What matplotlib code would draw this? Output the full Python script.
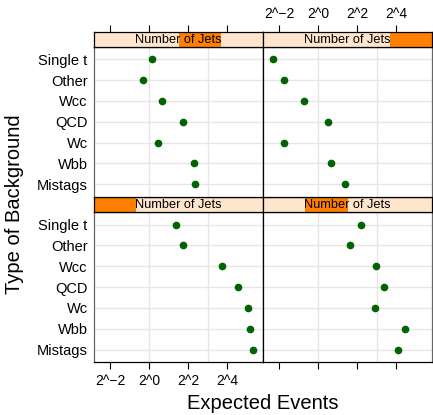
import numpy as np
import matplotlib.pyplot as plt
from matplotlib.patches import Rectangle
from matplotlib.ticker import FixedLocator, FuncFormatter, NullFormatter

plt.rcParams['font.family'] = ['Liberation Sans', 'DejaVu Sans']

# rows from bottom to top, as lattice draws them
backgrounds = ["Mistags", "Wbb", "Wc", "QCD", "Wcc", "Other", "Single t"]
jet_levels = [1, 2, 3, 4]

# expected events per background, one list per jet multiplicity
events_1jet = [40.2, 36.3, 33.6, 23.9, 13.5, 3.29, 2.59]
events_2jet = [16.9, 22.2, 7.67, 10.3, 7.89, 3.10, 4.63]
events_3jet = [5.17, 4.92, 1.39, 3.36, 1.59, 0.80, 1.10]
events_4jet = [2.62, 1.59, 0.30, 1.41, 0.61, 0.30, 0.20]
events = [events_1jet, events_2jet, events_3jet, events_4jet]

xticks = [2.0**-2, 2.0**0, 2.0**2, 2.0**4]
xgrid = [1, 8]
xlim = (2.0**-2.84, 2.0**5.85)

W, H = 433, 415
fig = plt.figure(figsize=(W / 100, H / 100), dpi=100)


def box(x0, y0, x1, y1):
    # pixel box (top-left origin) -> figure fraction rect
    return [x0 / W, 1 - y1 / H, (x1 - x0) / W, (y1 - y0) / H]


def fmt(v, pos):
    e = int(round(np.log2(v)))
    return "2^" + (("\u2212%d" % -e) if e < 0 else "%d" % e)


cols = [(94, 263), (263, 432)]
rows = [(212, 362, 196.7, 212), (46.7, 196.7, 32, 46.7)]  # panel top/bottom, strip top/bottom
ypos = np.arange(1, len(backgrounds) + 1)

for i, lev in enumerate(jet_levels):
    c, r = i % 2, i // 2
    x0, x1 = cols[c]
    py0, py1, sy0, sy1 = rows[r]

    ax = fig.add_axes(box(x0, py0, x1, py1))
    ax.set_xscale('log', base=2)
    ax.set_xlim(*xlim)
    ax.set_ylim(0.4, len(backgrounds) + 0.6)
    for g in xgrid:
        ax.axvline(g, color='#e6e6e6', lw=1, zorder=0)
    for y in ypos:
        ax.axhline(y, color='#e6e6e6', lw=1, zorder=0)
    ax.plot(events[i], ypos, 'o', color='#006400', ms=4.5, zorder=3)

    ax.xaxis.set_major_locator(FixedLocator(xticks))
    ax.xaxis.set_minor_locator(FixedLocator([]))
    if r == 0:
        ax.tick_params(axis='x', bottom=True, top=False, length=4.7, width=0.8,
                       labelsize=10, pad=4)
        if c == 0:
            ax.xaxis.set_major_formatter(FuncFormatter(fmt))
        else:
            ax.xaxis.set_major_formatter(NullFormatter())
    else:
        ax.tick_params(axis='x', bottom=False, labelbottom=False)

    ax.set_yticks(ypos)
    if c == 0:
        ax.set_yticklabels(backgrounds, fontsize=10.5)
        ax.tick_params(axis='y', length=0, pad=4.5)
        ax.spines['left'].set_color('#666666')
    else:
        ax.tick_params(axis='y', left=False, labelleft=False)
        ax.spines['right'].set_color('#666666')
    for s in ax.spines.values():
        s.set_linewidth(0.9)

    # strip with level indicator
    st = fig.add_axes(box(x0, sy0, x1, sy1))
    st.set_facecolor('#ffe5cc')
    st.set_xscale('log', base=2)
    st.set_xlim(*xlim)
    st.set_ylim(0, 1)
    st.add_patch(Rectangle((i / 4, 0), 0.25, 1, transform=st.transAxes,
                           color='#ff7f00', lw=0, zorder=1))
    st.text(0.5, 0.45, "Number of Jets", transform=st.transAxes, ha='center',
            va='center', fontsize=9.2, zorder=2)
    st.set_yticks([])
    st.xaxis.set_major_locator(FixedLocator(xticks))
    st.xaxis.set_minor_locator(FixedLocator([]))
    if r == 1:
        st.tick_params(axis='x', bottom=False, labelbottom=False, top=True,
                       labeltop=(c == 1), length=4.7, width=0.8, labelsize=10, pad=3)
        st.xaxis.set_major_formatter(FuncFormatter(fmt))
    else:
        st.tick_params(axis='x', bottom=False, labelbottom=False)
    for s in st.spines.values():
        s.set_linewidth(0.9)

fig.text(263 / W, 1 - 403 / H, "Expected Events", ha='center', va='center', fontsize=14.5)
fig.text(15 / W, 1 - 204 / H, "Type of Background", ha='center', va='center',
         rotation=90, fontsize=14.5)

fig.savefig("out.png", dpi=100)
